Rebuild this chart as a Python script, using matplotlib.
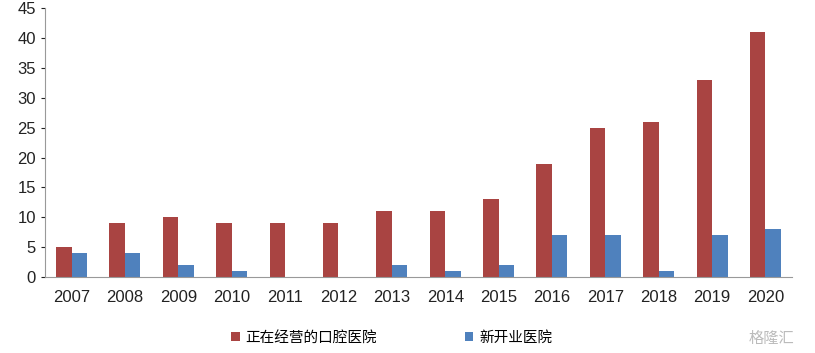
import numpy as np
import matplotlib.pyplot as plt

plt.rcParams['font.family'] = ['Liberation Sans', 'Noto Sans CJK SC', 'DejaVu Sans']

years = ['2007', '2008', '2009', '2010', '2011', '2012', '2013', '2014',
         '2015', '2016', '2017', '2018', '2019', '2020']
operating = [5, 9, 10, 9, 9, 9, 11, 11, 13, 19, 25, 26, 33, 41]
new_open = [4, 4, 2, 1, 0, 0, 2, 1, 2, 7, 7, 1, 7, 8]

fig = plt.figure(figsize=(8.15, 3.53), dpi=100)
ax = fig.add_axes([0.055, 0.215, 0.917, 0.762])

x = np.arange(len(years))
w = 0.29
ax.bar(x - w / 2, operating, w, color='#a94442', label='正在经营的口腔医院')
ax.bar(x + w / 2, new_open, w, color='#4f81bd', label='新开业医院')

ax.set_xlim(-0.5, len(years) - 0.5)
ax.set_ylim(0, 45)
ax.set_yticks(range(0, 46, 5))
ax.set_xticks(x)
ax.set_xticklabels(years)
ax.tick_params(axis='both', labelsize=12, colors='#222222', length=3)
ax.tick_params(axis='x', length=0, pad=9)
for s in ['top', 'right']:
    ax.spines[s].set_visible(False)
for s in ['left', 'bottom']:
    ax.spines[s].set_color('#999999')

ax.legend(loc='upper center', bbox_to_anchor=(0.464, -0.15), ncol=2,
          frameon=False, handlelength=0.6, handleheight=0.6,
          columnspacing=6.0, handletextpad=0.4,
          prop={'family': ['Noto Sans CJK SC'], 'size': 10.5})

fig.text(0.975, 0.04, '格隆汇', ha='right', va='center', fontsize=11,
         color='#bbbbbb', family=['Noto Sans CJK SC'])

fig.savefig('out.png')
